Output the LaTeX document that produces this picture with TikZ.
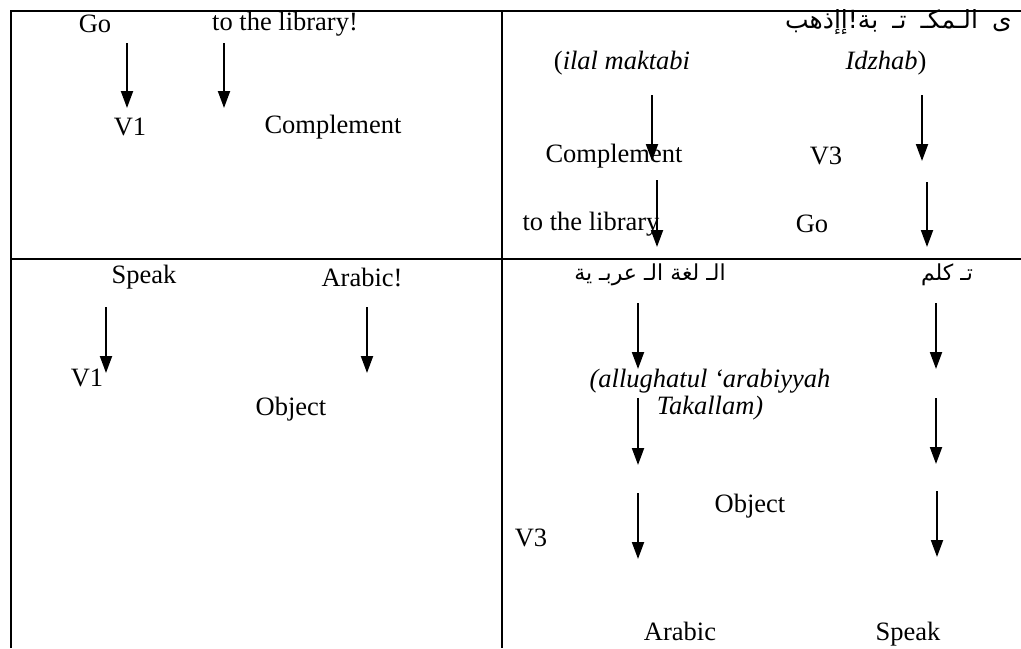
\documentclass[tikz,border=0pt]{standalone}
\usepackage{fontspec}
\setmainfont{Liberation Serif}
\newfontfamily\arabicfont[Script=Arabic]{DejaVu Sans}
\TeXXeTstate=1
\usetikzlibrary{arrows.meta}

\begin{document}
\begin{tikzpicture}[x=0.5pt, y=-0.5pt, >={Triangle[width=6pt,length=8.5pt]},
    word/.style={inner sep=0pt, font=\fontsize{13.25}{15.5}\selectfont},
    arab/.style={inner sep=0pt, font=\fontsize{11}{13}\arabicfont},
    down/.style={->, line width=1pt},
    rule/.style={line width=1pt}]
    \useasboundingbox (0,0) rectangle (1021,648);

    % table lines
    \draw[rule] (11,648) -- (11,11) -- (1021,11);
    \draw[rule] (502,11) -- (502,648);
    \draw[rule] (11,259) -- (1021,259);

    % top left: English imperative
    \node[word] (go1) at (95,24) {Go};
    \node[word] (lib1) at (285,24) {to the library!};
    \node[word] (v1a) at (130,127) {V1};
    \node[word] (comp1) at (333,127) {Complement};
    \coordinate (a1s) at (127,43);  \coordinate (a1e) at (127,108);
    \coordinate (a2s) at (224,43);  \coordinate (a2e) at (224,108);
    \draw[down] (a1s) -- (a1e);
    \draw[down] (a2s) -- (a2e);

    % top right: Arabic imperative
    \node[arab, anchor=east, font=\fontsize{12.5}{14}\arabicfont] (ar1) at (1012,22) {\spaceskip=7pt\relax\beginR ى الـمكـ تـ بة!إإذهب\endR};
    \node[word] (ilal) at (622,63) {(\textit{ilal maktabi}};
    \node[word] (idz) at (886,63) {\textit{Idzhab})};
    \node[word] (comp2) at (614,156) {Complement};
    \node[word] (v3a) at (826,156) {V3};
    \node[word] (lib2) at (591,224) {to the library};
    \node[word] (go2) at (812,224) {Go};
    \coordinate (b1s) at (652,95);  \coordinate (b1e) at (652,161);
    \coordinate (b2s) at (922,95);  \coordinate (b2e) at (922,161);
    \coordinate (b3s) at (657,180); \coordinate (b3e) at (657,247);
    \coordinate (b4s) at (927,182); \coordinate (b4e) at (927,247);
    \draw[down] (b1s) -- (b1e);
    \draw[down] (b2s) -- (b2e);
    \draw[down] (b3s) -- (b3e);
    \draw[down] (b4s) -- (b4e);

    % bottom left
    \node[word] (speak1) at (144,277) {Speak};
    \node[word] (arabic1) at (362,277) {Arabic!};
    \node[word] (v1b) at (87,378) {V1};
    \node[word] (obj1) at (291,409) {Object};
    \coordinate (c1s) at (106,307); \coordinate (c1e) at (106,373);
    \coordinate (c2s) at (367,307); \coordinate (c2e) at (367,373);
    \draw[down] (c1s) -- (c1e);
    \draw[down] (c2s) -- (c2e);

    % bottom right
    \node[arab] (ar2) at (650,275) {\beginR الـ لغة الـ عربـ  ية\endR};
    \node[arab] (ar3) at (947,275) {\beginR تـ كلم\endR};
    \node[word] (allu) at (710,381) {\textit{(allughatul ‘arabiyyah}};
    \node[word] (tak) at (710,408) {\textit{Takallam)}};
    \node[word] (obj2) at (750,506) {Object};
    \node[word] (v3b) at (531,538) {V3};
    \node[word, anchor=base] (arabic2) at (680,640) {Arabic};
    \node[word, anchor=base] (speak2) at (908,640) {Speak};
    \coordinate (d1s) at (638,303); \coordinate (d1e) at (638,369);
    \coordinate (d2s) at (638,398); \coordinate (d2e) at (638,465);
    \coordinate (d3s) at (638,493); \coordinate (d3e) at (638,559);
    \coordinate (d4s) at (936,303); \coordinate (d4e) at (936,369);
    \coordinate (d5s) at (936,398); \coordinate (d5e) at (936,464);
    \coordinate (d6s) at (937,491); \coordinate (d6e) at (937,557);
    \draw[down] (d1s) -- (d1e);
    \draw[down] (d2s) -- (d2e);
    \draw[down] (d3s) -- (d3e);
    \draw[down] (d4s) -- (d4e);
    \draw[down] (d5s) -- (d5e);
    \draw[down] (d6s) -- (d6e);
\end{tikzpicture}
\end{document}
